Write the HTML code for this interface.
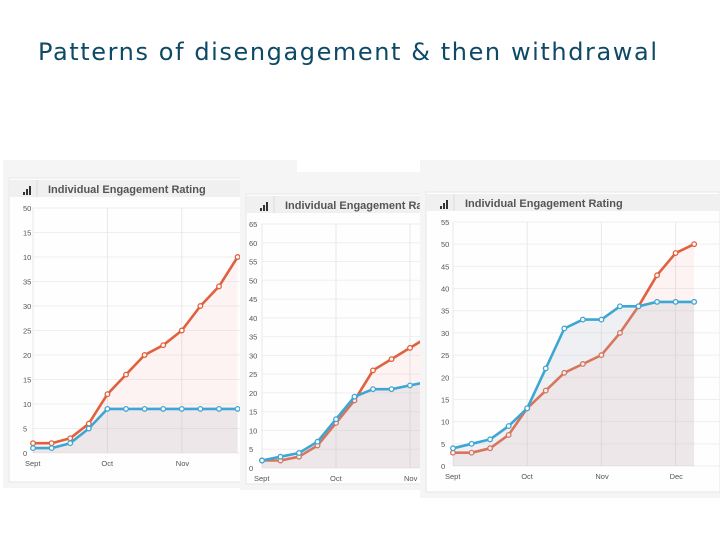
<!DOCTYPE html>
<html><head><meta charset="utf-8"><style>
body{margin:0;background:#fff;width:720px;height:540px;overflow:hidden}
svg{display:block}
</style></head><body>
<svg id="s" width="720" height="540" xmlns="http://www.w3.org/2000/svg">
<text x="38" y="60" font-family="DejaVu Sans, sans-serif" font-size="24" fill="#0e4a66" textLength="619">Patterns of disengagement &amp; then withdrawal</text>
</svg>
<script>
const NS='http://www.w3.org/2000/svg';
const svg=document.getElementById('s');
// Panel 1 data
const p1Months=['Sept','Oct','Nov'];
const p1Red=[2,2,3,6,12,16,20,22,25,30,34,40];
const p1Blue=[1,1,2,5,9,9,9,9,9,9,9,9];
const p1Ticks=[0,5,10,15,20,25,30,35,40,45,50];
const p1TickLabels=['0','5','10','15','20','25','30','35','10','15','50'];
// Panel 2 data
const p2Months=['Sept','Oct','Nov'];
const p2Red=[2,2,3,6,12,18,26,29,32,35];
const p2Blue=[2,3,4,7,13,19,21,21,22,23];
const p2Ticks=[0,5,10,15,20,25,30,35,40,45,50,55,60,65];
const p2TickLabels=['0','5','10','15','20','25','30','35','40','45','50','55','60','65'];
// Panel 3 data
const p3Months=['Sept','Oct','Nov','Dec'];
const p3Red=[3,3,4,7,13,17,21,23,25,30,36,43,48,50];
const p3Blue=[4,5,6,9,13,22,31,33,33,36,36,37,37,37];
const p3Ticks=[0,5,10,15,20,25,30,35,40,45,50,55];
const p3TickLabels=['0','5','10','15','20','25','30','35','40','45','50','55'];

function el(tag,attrs,parent){const e=document.createElementNS(NS,tag);for(const k in attrs)e.setAttribute(k,attrs[k]);(parent||svg).appendChild(e);return e;}

function panel(id,cfg,months,red,blue,ticks,tickLabels){
  const g=el('g',{});
  
  
  const cp=el('clipPath',{id:id+'-clip'},g);
  el('rect',{x:cfg.bx,y:cfg.by,width:cfg.bw,height:cfg.bh},cp);
  const inner=el('g',{'clip-path':'url(#'+id+'-clip)'},g);
  el('rect',{x:cfg.bx,y:cfg.by,width:cfg.bw,height:cfg.bh,fill:'#f5f5f5'},inner);
  el('rect',{x:cfg.bx+6,y:cfg.hy-2,width:cfg.bw-6,height:cfg.bh-(cfg.hy-cfg.by)-4,fill:'#fefefe',stroke:'#e6e6e6'},inner);
  const hdr=el('rect',{x:cfg.bx+6,y:cfg.hy,width:cfg.bw-6,height:17,fill:'#f0f0f0'},inner);
  
  
  el('line',{x1:cfg.bx+34,x2:cfg.bx+34,y1:cfg.hy,y2:cfg.hy+17,stroke:'#dcdcdc'},inner);
  for(let i=0;i<3;i++){el('rect',{x:cfg.bx+20+i*3,y:cfg.hy+12-i*3,width:2,height:3+i*3,fill:'#333'},inner);}
  const t=el('text',{x:cfg.bx+45,y:cfg.hy+13,'font-family':'Liberation Sans, sans-serif','font-size':'11','font-weight':'bold',fill:'#555'},inner);
  t.textContent='Individual Engagement Rating';
  
  
  const ymax=ticks[ticks.length-1];
  const Y=v=>cfg.y0-(v/ymax)*(cfg.y0-cfg.yTop);
  const X=i=>cfg.x0+i*cfg.dx;
  ticks.forEach((v,i)=>{
    el('line',{x1:cfg.x0,x2:cfg.bx+cfg.bw,y1:Y(v),y2:Y(v),stroke:'#efefef'},inner);
    const tl=el('text',{x:cfg.bx+(cfg.labX||20),y:Y(v)+3,'font-family':'Liberation Sans, sans-serif','font-size':'7.5',fill:'#555'},inner);
    tl.textContent=tickLabels[i];
    
    
  });
  months.forEach((m,i)=>{
    const x=X(i*4);
    el('line',{x1:x,x2:x,y1:cfg.yTop,y2:cfg.y0,stroke:'#e8e8e8'},inner);
    const ml=el('text',{x:i==0?x-8:x-6,y:cfg.y0+13,'font-family':'Liberation Sans, sans-serif','font-size':'7.5',fill:'#555'},inner);
    ml.textContent=m;
    
    
  });
  function series(vals,color,fill,name){
    const pts=vals.map((v,i)=>X(i).toFixed(1)+','+Y(v).toFixed(1));
    const a=el('polygon',{points:X(0)+','+cfg.y0+' '+pts.join(' ')+' '+X(vals.length-1)+','+cfg.y0,fill:fill},inner);
    
    
    const l=el('polyline',{points:pts.join(' '),fill:'none',stroke:color,'stroke-width':'2.6','stroke-linejoin':'round'},inner);
    
    
    vals.forEach((v,i)=>{
      const c=el('circle',{cx:X(i),cy:Y(v),r:2.3,fill:'#fff',stroke:color,'stroke-width':'1.3'},inner);
      
      
    });
  }
  series(red,'#e0613e','rgba(240,120,100,0.08)','red-series');
  series(blue,'#3ea6d2','rgba(180,190,205,0.22)','blue-series');
}
panel('panel-1',{bx:3,by:160,bw:294,bh:328,hy:180,x0:33,dx:18.6,y0:453,yTop:208,labX:20},p1Months,p1Red,p1Blue,p1Ticks,p1TickLabels);
panel('panel-2',{bx:240,by:172,bw:182,bh:318,hy:196,x0:262,dx:18.5,y0:468,yTop:224,labX:9},p2Months,p2Red,p2Blue,p2Ticks,p2TickLabels);
panel('panel-3',{bx:420,by:160,bw:300,bh:338,hy:194,x0:453,dx:18.55,y0:466,yTop:222,labX:21},p3Months,p3Red,p3Blue,p3Ticks,p3TickLabels);
</script>
</body></html>
